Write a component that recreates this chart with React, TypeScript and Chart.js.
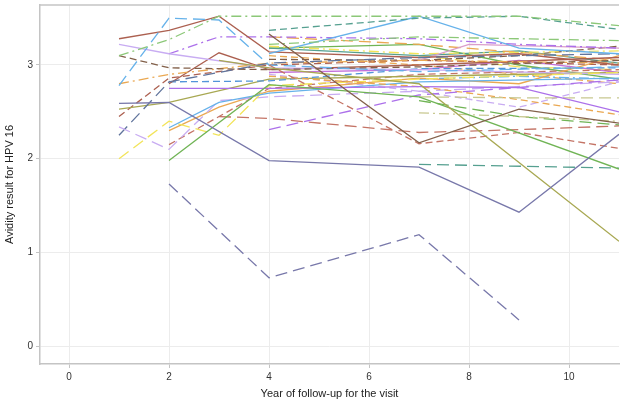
import React, { useEffect, useRef } from "react";
import { Chart, registerables } from "chart.js";

Chart.register(...registerables);

// Axis ticks
const xTickValues = [0, 2, 4, 6, 8, 10];
const yTickValues = [0, 1, 2, 3];

// Avidity trajectories, one per participant: [year, avidity]
const s01 = [[1, 2.59], [2, 2.6], [4, 1.98], [7, 1.91], [9, 1.43], [11, 2.26]];
const s02 = [[2, 1.73], [4, 0.73], [7, 1.19], [9, 0.28]];
const s03 = [[4, 3.33], [7, 2.17], [9, 2.53], [11, 2.38]];
const s04 = [[3, 3.05], [4, 2.97], [7, 2.8], [11, 1.12]];
const s05 = [[2, 1.98], [4, 2.79], [7, 2.66], [11, 1.89]];
const s06 = [[7, 1.94], [11, 1.9]];
const s07 = [[3, 2.45], [4, 2.43], [7, 2.28], [9, 2.31], [11, 2.35]];
const s08 = [[4, 3.0], [7, 2.16], [9, 2.28], [11, 2.11]];
const s09 = [[4, 2.31], [7, 2.68], [9, 2.76], [11, 2.84]];
const s10 = [[2, 2.75], [4, 2.75], [7, 2.77], [9, 2.76], [11, 2.5]];
const s11 = [[7, 2.66], [9, 2.65], [11, 2.65]];
const s12 = [[7, 2.49], [9, 2.45], [11, 2.4]];
const s13 = [[4, 2.88], [7, 2.77], [9, 2.63], [11, 2.47]];
const s14 = [[1, 3.1], [2, 3.27], [3, 3.52], [9, 3.52], [11, 3.42]];
const s15 = [[4, 3.37], [7, 3.5], [9, 3.52], [11, 3.38]];
const s16 = [[4, 3.22], [7, 3.3], [11, 3.26]];
const s17 = [[1, 2.78], [2, 3.5], [3, 3.48], [4, 3.0], [7, 2.93], [11, 2.98]];
const s18 = [[4, 3.12], [7, 3.52], [9, 3.18], [11, 3.12]];
const s19 = [[2, 2.33], [3, 2.6], [4, 2.7], [7, 2.82], [11, 2.86]];
const s20 = [[1, 2.0], [2, 2.4], [3, 2.25], [4, 2.78], [7, 2.85], [11, 2.92]];
const s21 = [[1, 2.34], [2, 2.1], [3, 2.62], [4, 2.66], [7, 2.72], [11, 2.82]];
const s22 = [[1, 2.25], [2, 2.82], [4, 3.02], [7, 3.08], [11, 3.12]];
const s23 = [[1, 3.1], [2, 2.97], [4, 2.95], [7, 2.98], [11, 3.05]];
const s24 = [[1, 3.28], [2, 3.37], [3, 3.52], [4, 3.14], [7, 3.08], [9, 3.12], [11, 3.0]];
const s25 = [[1, 3.22], [2, 3.12], [4, 2.97], [7, 2.95], [11, 2.9]];
const s26 = [[2, 3.12], [3, 3.3], [4, 3.3], [7, 3.28], [9, 3.22], [11, 3.18]];
const s27 = [[1, 2.8], [2, 2.9], [4, 3.02], [7, 3.05], [11, 3.02]];
const s28 = [[2, 2.8], [3, 3.13], [4, 2.95], [7, 3.0], [11, 3.08]];
const s29 = [[2, 2.82], [4, 2.83], [7, 2.96], [11, 2.97]];
const s30 = [[2, 2.3], [3, 2.55], [4, 2.72], [7, 2.86], [9, 2.8], [11, 3.1]];
const s31 = [[1, 2.53], [2, 2.6], [4, 2.85], [7, 2.88], [11, 2.92]];
const s32 = [[1, 2.45], [2, 2.86], [4, 3.0], [7, 3.05], [11, 3.0]];
const s33 = [[2, 2.15], [3, 2.45], [4, 2.75], [7, 2.9], [11, 2.95]];
const s34 = [[7, 3.05], [8, 3.22], [11, 3.18]];
const s35 = [[4, 3.2], [7, 3.12], [11, 3.15]];
const s36 = [[4, 3.3], [7, 3.22], [11, 3.05]];
const s37 = [[4, 3.18], [7, 3.1], [9, 3.15], [11, 3.02]];
const s38 = [[4, 2.92], [7, 2.95], [9, 3.05], [11, 2.92]];
const s39 = [[4, 3.18], [7, 3.22], [9, 3.0], [11, 2.85]];
const s40 = [[7, 2.85], [9, 2.88], [11, 2.85]];
const s41 = [[4, 3.06], [7, 3.05], [9, 3.1], [11, 3.2]];
const s42 = [[4, 2.9], [7, 2.72], [9, 2.55], [11, 2.82]];
const s43 = [[7, 2.62], [9, 2.45], [11, 2.36]];
const s44 = [[4, 3.1], [7, 3.0], [11, 2.8]];
const s45 = [[7, 3.1], [9, 2.98], [11, 2.95]];

const subjects = [
  s01, s02, s03, s04, s05, s06, s07, s08, s09, s10, s11, s12, s13, s14, s15,
  s16, s17, s18, s19, s20, s21, s22, s23, s24, s25, s26, s27, s28, s29, s30,
  s31, s32, s33, s34, s35, s36, s37, s38, s39, s40, s41, s42, s43, s44, s45,
];

// Line appearance per participant
const C = {
  slate: "#7878aa",
  darkBrown: "#82604a",
  olive: "#a8a852",
  green: "#70b455",
  teal: "#56a090",
  red: "#c47466",
  purple: "#ac70ea",
  khaki: "#c8c890",
  orange: "#eaa852",
  lightGreen: "#8cc878",
  lightBlue: "#66b2ea",
  blue: "#5294da",
  yellow: "#f2e45a",
  lavender: "#c8acf2",
  steel: "#60749c",
  brown: "#ac6050",
  pink: "#da9eca",
  magenta: "#c472da",
};
const SOLID: number[] = [];
const LONG = [12, 6];
const DASH = [7, 4];
const DASHDOT = [10, 4, 2, 4];

const lineStyles: [string, number[]][] = [
  [C.slate, SOLID], [C.slate, LONG], [C.darkBrown, SOLID], [C.olive, SOLID], [C.green, SOLID],
  [C.teal, LONG], [C.red, LONG], [C.red, DASH], [C.purple, LONG], [C.purple, SOLID],
  [C.khaki, LONG], [C.khaki, DASHDOT], [C.orange, DASH], [C.lightGreen, DASHDOT], [C.teal, DASH],
  [C.lightGreen, DASHDOT], [C.lightBlue, LONG], [C.lightBlue, SOLID], [C.lightBlue, SOLID], [C.yellow, LONG],
  [C.lavender, LONG], [C.steel, LONG], [C.darkBrown, DASH], [C.brown, SOLID], [C.lavender, SOLID],
  [C.purple, DASHDOT], [C.orange, DASHDOT], [C.brown, SOLID], [C.blue, DASH], [C.orange, SOLID],
  [C.olive, SOLID], [C.brown, DASH], [C.red, DASH], [C.pink, SOLID], [C.yellow, DASHDOT],
  [C.orange, LONG], [C.teal, SOLID], [C.magenta, SOLID], [C.green, SOLID], [C.lightBlue, DASHDOT],
  [C.darkBrown, DASH], [C.lavender, DASH], [C.green, LONG], [C.orange, DASH], [C.yellow, LONG],
];

const FONT = "'Liberation Sans', Arial, sans-serif";

const topBorder = {
  id: "topBorder",
  afterDraw(chart: any) {
    const { ctx, chartArea } = chart;
    ctx.save();
    ctx.strokeStyle = "#c4c4c4";
    ctx.lineWidth = 1.5;
    ctx.beginPath();
    ctx.moveTo(chartArea.left, chartArea.top);
    ctx.lineTo(chartArea.right, chartArea.top);
    ctx.stroke();
    ctx.restore();
  },
};

export default function App() {
  const ref = useRef<HTMLCanvasElement>(null);

  useEffect(() => {
    if (!ref.current) return;
    const datasets = subjects.map((pts, i) => ({
      label: `ID ${i + 1}`,
      data: pts.map(([x, y]) => ({ x, y })),
      borderColor: lineStyles[i][0],
      borderDash: lineStyles[i][1],
      borderWidth: 1.3,
      pointRadius: 0,
      fill: false,
      tension: 0,
    }));

    const chart = new Chart(ref.current, {
      type: "line",
      data: { datasets },
      plugins: [topBorder],
      options: {
        animation: false,
        responsive: false,
        devicePixelRatio: 1,
        layout: { padding: { top: 5, right: 2, left: 0, bottom: 0 } },
        plugins: { legend: { display: false }, tooltip: { enabled: false } },
        scales: {
          x: {
            type: "linear",
            min: -0.58,
            max: 11,
            afterBuildTicks: (axis: any) => {
              axis.ticks = xTickValues.map((v) => ({ value: v }));
            },
            afterFit: (axis: any) => {
              axis.height = 42;
              axis.paddingLeft = 0;
              axis.paddingRight = 0;
            },
            grid: { color: "#ececec", tickColor: "#c4c4c4", tickLength: 4 },
            border: { display: true, color: "#c4c4c4", width: 1.5 },
            ticks: { font: { family: FONT, size: 10 }, color: "#333", padding: 3, maxRotation: 0 },
            title: {
              display: true,
              text: "Year of follow-up for the visit",
              font: { family: FONT, size: 11 },
              color: "#222",
              padding: { top: 0, bottom: 5 },
            },
          },
          y: {
            type: "linear",
            min: -0.19,
            max: 3.64,
            afterBuildTicks: (axis: any) => {
              axis.ticks = yTickValues.map((v) => ({ value: v }));
            },
            afterFit: (axis: any) => {
              axis.width = 40;
              axis.paddingTop = 0;
              axis.paddingBottom = 0;
            },
            grid: { color: "#ececec", tickColor: "#c4c4c4", tickLength: 4 },
            border: { display: true, color: "#c4c4c4", width: 1.5 },
            ticks: { font: { family: FONT, size: 10 }, color: "#333", padding: 3 },
            title: {
              display: true,
              text: "Avidity result for HPV 16",
              font: { family: FONT, size: 11 },
              color: "#222",
              padding: { top: 3, bottom: 0 },
            },
          },
        },
      },
    });
    return () => chart.destroy();
  }, []);

  return (
    <div style={{ position: "absolute", left: 0, top: 0, width: 621, height: 406, background: "#fff" }}>
      <canvas ref={ref} width={621} height={406} />
    </div>
  );
}
